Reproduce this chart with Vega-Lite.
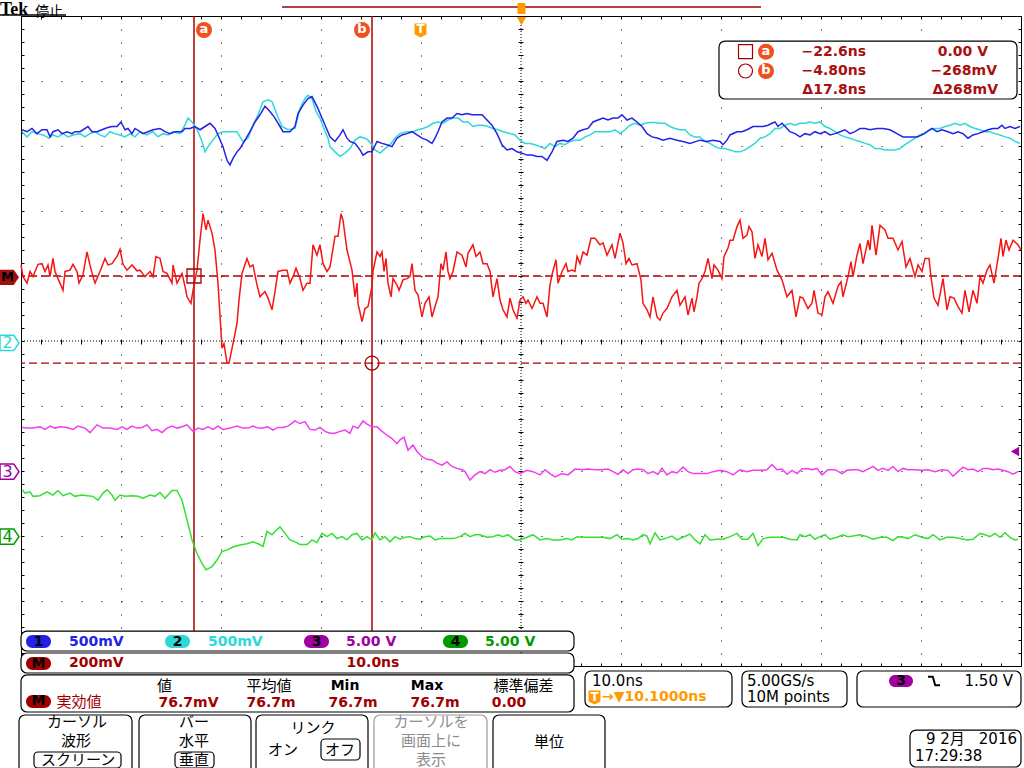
{
"$schema":"https://vega.github.io/schema/vega-lite/v6.json",
"width":1000,"height":650,
"autosize":{"type":"none"},
"padding":{"left":21,"top":16,"right":3,"bottom":102},
"background":"#ffffff",
"config":{"view":{"stroke":"#000000","strokeWidth":1}},
"data":{"values":[{}]},
"datasets":{
"tr":[
{"c":"2","t":-39.8,"v":3.22},{"c":"2","t":-39.3,"v":3.14},{"c":"2","t":-38.8,"v":3.22},{"c":"2","t":-38.3,"v":3.19},{"c":"2","t":-37.7,"v":3.17},{"c":"2","t":-37.1,"v":3.12},{"c":"2","t":-36.7,"v":3.17},{"c":"2","t":-36.2,"v":3.14},{"c":"2","t":-35.7,"v":3.19},{"c":"2","t":-35.2,"v":3.14},{"c":"2","t":-34.7,"v":3.17},{"c":"2","t":-34.0,"v":3.19},{"c":"2","t":-33.5,"v":3.14},{"c":"2","t":-33.0,"v":3.19},{"c":"2","t":-32.5,"v":3.22},{"c":"2","t":-32.0,"v":3.17},{"c":"2","t":-31.5,"v":3.14},{"c":"2","t":-31.0,"v":3.22},{"c":"2","t":-30.5,"v":3.19},{"c":"2","t":-30.0,"v":3.17},{"c":"2","t":-29.5,"v":3.14},{"c":"2","t":-29.0,"v":3.19},{"c":"2","t":-28.5,"v":3.14},{"c":"2","t":-28.0,"v":3.22},{"c":"2","t":-27.3,"v":3.17},{"c":"2","t":-26.7,"v":3.22},{"c":"2","t":-26.2,"v":3.14},{"c":"2","t":-25.7,"v":3.19},{"c":"2","t":-25.2,"v":3.17},{"c":"2","t":-24.7,"v":3.22},{"c":"2","t":-24.0,"v":3.19},{"c":"2","t":-23.5,"v":3.32},{"c":"2","t":-23.2,"v":3.43},{"c":"2","t":-22.8,"v":3.37},{"c":"2","t":-22.5,"v":3.30},{"c":"2","t":-22.2,"v":3.22},{"c":"2","t":-21.8,"v":3.07},{"c":"2","t":-21.5,"v":2.91},{"c":"2","t":-21.2,"v":2.99},{"c":"2","t":-20.7,"v":3.09},{"c":"2","t":-20.2,"v":3.19},{"c":"2","t":-19.7,"v":3.22},{"c":"2","t":-19.0,"v":3.22},{"c":"2","t":-18.3,"v":3.22},{"c":"2","t":-18.0,"v":3.14},{"c":"2","t":-17.7,"v":3.07},{"c":"2","t":-17.2,"v":3.12},{"c":"2","t":-16.7,"v":3.32},{"c":"2","t":-16.2,"v":3.48},{"c":"2","t":-15.7,"v":3.68},{"c":"2","t":-15.2,"v":3.71},{"c":"2","t":-14.8,"v":3.68},{"c":"2","t":-14.3,"v":3.48},{"c":"2","t":-13.8,"v":3.30},{"c":"2","t":-13.2,"v":3.25},{"c":"2","t":-12.5,"v":3.27},{"c":"2","t":-12.0,"v":3.58},{"c":"2","t":-11.5,"v":3.73},{"c":"2","t":-11.2,"v":3.78},{"c":"2","t":-10.8,"v":3.73},{"c":"2","t":-10.4,"v":3.53},{"c":"2","t":-10.0,"v":3.43},{"c":"2","t":-9.7,"v":3.30},{"c":"2","t":-9.2,"v":3.12},
{"c":"2","t":-9.0,"v":2.99},{"c":"2","t":-8.5,"v":2.91},{"c":"2","t":-8.0,"v":2.84},{"c":"2","t":-7.5,"v":2.89},{"c":"2","t":-7.0,"v":2.96},{"c":"2","t":-6.5,"v":3.09},{"c":"2","t":-6.0,"v":3.14},{"c":"2","t":-5.5,"v":3.12},{"c":"2","t":-5.2,"v":3.09},{"c":"2","t":-4.8,"v":3.02},{"c":"2","t":-4.5,"v":2.94},{"c":"2","t":-4.0,"v":2.89},{"c":"2","t":-3.5,"v":2.96},{"c":"2","t":-3.0,"v":3.02},{"c":"2","t":-2.5,"v":3.12},{"c":"2","t":-2.0,"v":3.19},{"c":"2","t":-1.3,"v":3.22},{"c":"2","t":-0.7,"v":3.22},{"c":"2","t":-0.2,"v":3.25},{"c":"2","t":0.3,"v":3.27},{"c":"2","t":0.8,"v":3.30},{"c":"2","t":1.3,"v":3.35},{"c":"2","t":1.8,"v":3.37},{"c":"2","t":2.3,"v":3.35},{"c":"2","t":2.8,"v":3.40},{"c":"2","t":3.3,"v":3.43},{"c":"2","t":3.8,"v":3.43},{"c":"2","t":4.3,"v":3.37},{"c":"2","t":4.8,"v":3.37},{"c":"2","t":5.3,"v":3.30},{"c":"2","t":5.8,"v":3.32},{"c":"2","t":6.3,"v":3.32},{"c":"2","t":6.8,"v":3.30},{"c":"2","t":7.3,"v":3.27},{"c":"2","t":7.8,"v":3.25},{"c":"2","t":8.3,"v":3.22},{"c":"2","t":9.0,"v":3.19},{"c":"2","t":9.5,"v":3.17},{"c":"2","t":10.0,"v":3.09},{"c":"2","t":10.5,"v":3.04},{"c":"2","t":11.0,"v":3.04},{"c":"2","t":11.5,"v":3.02},{"c":"2","t":12.0,"v":2.99},{"c":"2","t":12.5,"v":2.96},{"c":"2","t":13.0,"v":3.04},{"c":"2","t":13.5,"v":2.99},{"c":"2","t":14.0,"v":3.04},{"c":"2","t":14.5,"v":3.02},{"c":"2","t":15.0,"v":3.07},{"c":"2","t":15.5,"v":3.09},{"c":"2","t":16.0,"v":3.09},{"c":"2","t":16.5,"v":3.14},{"c":"2","t":17.0,"v":3.17},{"c":"2","t":17.5,"v":3.22},{"c":"2","t":18.0,"v":3.22},{"c":"2","t":18.5,"v":3.22},{"c":"2","t":19.0,"v":3.22},{"c":"2","t":19.5,"v":3.25},{"c":"2","t":20.0,"v":3.19},{"c":"2","t":20.5,"v":3.25},{"c":"2","t":21.0,"v":3.32},{"c":"2","t":21.5,"v":3.35},{"c":"2","t":22.0,"v":3.32},{"c":"2","t":22.5,"v":3.35},{"c":"2","t":23.0,"v":3.36},{"c":"2","t":23.5,"v":3.36},{"c":"2","t":24.0,"v":3.35},{"c":"2","t":24.5,"v":3.35},{"c":"2","t":25.0,"v":3.30},{"c":"2","t":25.5,"v":3.27},{"c":"2","t":26.0,"v":3.25},{"c":"2","t":26.5,"v":3.25},{"c":"2","t":27.0,"v":3.17},{"c":"2","t":27.5,"v":3.14},
{"c":"2","t":28.0,"v":3.14},{"c":"2","t":28.5,"v":3.07},{"c":"2","t":29.0,"v":3.04},{"c":"2","t":29.5,"v":2.99},{"c":"2","t":30.0,"v":2.96},{"c":"2","t":30.5,"v":2.96},{"c":"2","t":31.0,"v":2.94},{"c":"2","t":31.5,"v":2.91},{"c":"2","t":32.0,"v":2.91},{"c":"2","t":32.5,"v":2.94},{"c":"2","t":33.0,"v":2.99},{"c":"2","t":33.5,"v":3.04},{"c":"2","t":34.0,"v":3.12},{"c":"2","t":34.5,"v":3.14},{"c":"2","t":35.0,"v":3.19},{"c":"2","t":35.5,"v":3.27},{"c":"2","t":36.0,"v":3.27},{"c":"2","t":36.5,"v":3.32},{"c":"2","t":37.0,"v":3.35},{"c":"2","t":37.5,"v":3.32},{"c":"2","t":38.0,"v":3.35},{"c":"2","t":38.5,"v":3.35},{"c":"2","t":39.0,"v":3.37},{"c":"2","t":39.5,"v":3.35},{"c":"2","t":40.0,"v":3.37},{"c":"2","t":40.5,"v":3.30},{"c":"2","t":41.0,"v":3.27},{"c":"2","t":41.5,"v":3.22},{"c":"2","t":42.0,"v":3.17},{"c":"2","t":42.5,"v":3.14},{"c":"2","t":43.0,"v":3.12},{"c":"2","t":43.5,"v":3.09},{"c":"2","t":44.0,"v":3.07},{"c":"2","t":44.5,"v":3.04},{"c":"2","t":45.0,"v":3.02},{"c":"2","t":45.5,"v":2.96},{"c":"2","t":46.0,"v":2.96},{"c":"2","t":46.5,"v":2.94},{"c":"2","t":47.0,"v":2.94},{"c":"2","t":47.5,"v":2.94},{"c":"2","t":48.0,"v":2.96},{"c":"2","t":48.5,"v":3.02},{"c":"2","t":49.0,"v":3.07},{"c":"2","t":49.5,"v":3.12},{"c":"2","t":50.0,"v":3.17},{"c":"2","t":50.5,"v":3.19},{"c":"2","t":51.0,"v":3.25},{"c":"2","t":51.5,"v":3.27},{"c":"2","t":52.0,"v":3.27},{"c":"2","t":52.5,"v":3.30},{"c":"2","t":53.0,"v":3.32},{"c":"2","t":53.5,"v":3.35},{"c":"2","t":54.0,"v":3.32},{"c":"2","t":54.5,"v":3.35},{"c":"2","t":55.0,"v":3.30},{"c":"2","t":55.5,"v":3.27},{"c":"2","t":56.0,"v":3.25},{"c":"2","t":56.5,"v":3.22},{"c":"2","t":57.0,"v":3.22},{"c":"2","t":57.5,"v":3.19},{"c":"2","t":58.0,"v":3.17},{"c":"2","t":58.5,"v":3.14},{"c":"2","t":59.0,"v":3.12},{"c":"2","t":59.5,"v":3.07},{"c":"2","t":60.0,"v":3.04},
{"c":"1","t":-39.8,"v":3.25},{"c":"1","t":-39.3,"v":3.22},{"c":"1","t":-38.8,"v":3.27},{"c":"1","t":-38.3,"v":3.19},{"c":"1","t":-37.8,"v":3.25},{"c":"1","t":-37.3,"v":3.25},{"c":"1","t":-37.0,"v":3.14},{"c":"1","t":-36.7,"v":3.22},{"c":"1","t":-36.2,"v":3.25},{"c":"1","t":-35.8,"v":3.19},{"c":"1","t":-35.3,"v":3.22},{"c":"1","t":-34.8,"v":3.19},{"c":"1","t":-34.5,"v":3.22},{"c":"1","t":-34.0,"v":3.22},{"c":"1","t":-33.2,"v":3.30},{"c":"1","t":-32.8,"v":3.22},{"c":"1","t":-32.3,"v":3.22},{"c":"1","t":-31.8,"v":3.25},{"c":"1","t":-31.3,"v":3.28},{"c":"1","t":-30.8,"v":3.30},{"c":"1","t":-30.3,"v":3.30},{"c":"1","t":-29.9,"v":3.37},{"c":"1","t":-29.5,"v":3.25},{"c":"1","t":-29.2,"v":3.27},{"c":"1","t":-28.8,"v":3.19},{"c":"1","t":-28.5,"v":3.27},{"c":"1","t":-28.0,"v":3.22},{"c":"1","t":-27.7,"v":3.19},{"c":"1","t":-27.2,"v":3.22},{"c":"1","t":-26.7,"v":3.25},{"c":"1","t":-26.0,"v":3.27},{"c":"1","t":-25.5,"v":3.22},{"c":"1","t":-25.0,"v":3.19},{"c":"1","t":-24.5,"v":3.22},{"c":"1","t":-23.8,"v":3.22},{"c":"1","t":-23.5,"v":3.27},{"c":"1","t":-23.0,"v":3.27},{"c":"1","t":-22.5,"v":3.30},{"c":"1","t":-22.0,"v":3.25},{"c":"1","t":-21.5,"v":3.30},{"c":"1","t":-21.0,"v":3.35},{"c":"1","t":-20.5,"v":3.27},{"c":"1","t":-20.2,"v":3.17},{"c":"1","t":-19.7,"v":2.99},{"c":"1","t":-19.3,"v":2.78},{"c":"1","t":-19.0,"v":2.71},{"c":"1","t":-18.7,"v":2.81},{"c":"1","t":-18.3,"v":2.91},{"c":"1","t":-18.0,"v":2.96},{"c":"1","t":-17.5,"v":3.09},{"c":"1","t":-17.0,"v":3.22},{"c":"1","t":-16.5,"v":3.37},{"c":"1","t":-16.0,"v":3.48},{"c":"1","t":-15.5,"v":3.61},{"c":"1","t":-15.0,"v":3.53},{"c":"1","t":-14.5,"v":3.43},{"c":"1","t":-14.0,"v":3.30},{"c":"1","t":-13.7,"v":3.22},{"c":"1","t":-13.0,"v":3.22},{"c":"1","t":-12.5,"v":3.30},{"c":"1","t":-12.2,"v":3.50},{"c":"1","t":-11.7,"v":3.63},{"c":"1","t":-11.2,"v":3.73},{"c":"1","t":-10.8,"v":3.76},{"c":"1","t":-10.3,"v":3.61},{"c":"1","t":-9.8,"v":3.43},{"c":"1","t":-9.3,"v":3.25},
{"c":"1","t":-9.0,"v":3.14},{"c":"1","t":-8.5,"v":3.07},{"c":"1","t":-8.0,"v":3.17},{"c":"1","t":-7.7,"v":3.25},{"c":"1","t":-7.3,"v":3.12},{"c":"1","t":-7.0,"v":3.07},{"c":"1","t":-6.5,"v":3.04},{"c":"1","t":-6.0,"v":2.94},{"c":"1","t":-5.7,"v":2.86},{"c":"1","t":-5.2,"v":2.91},{"c":"1","t":-4.8,"v":2.91},{"c":"1","t":-4.3,"v":3.07},{"c":"1","t":-3.8,"v":3.04},{"c":"1","t":-3.3,"v":3.02},{"c":"1","t":-2.8,"v":2.99},{"c":"1","t":-2.3,"v":3.12},{"c":"1","t":-1.8,"v":3.17},{"c":"1","t":-1.3,"v":3.19},{"c":"1","t":-0.8,"v":3.22},{"c":"1","t":-0.3,"v":3.17},{"c":"1","t":0.2,"v":3.12},{"c":"1","t":0.7,"v":3.09},{"c":"1","t":1.2,"v":3.04},{"c":"1","t":1.5,"v":3.12},{"c":"1","t":1.8,"v":3.22},{"c":"1","t":2.2,"v":3.37},{"c":"1","t":2.7,"v":3.43},{"c":"1","t":3.2,"v":3.43},{"c":"1","t":3.7,"v":3.50},{"c":"1","t":4.2,"v":3.48},{"c":"1","t":4.7,"v":3.50},{"c":"1","t":5.2,"v":3.48},{"c":"1","t":5.7,"v":3.48},{"c":"1","t":6.2,"v":3.48},{"c":"1","t":6.7,"v":3.40},{"c":"1","t":7.2,"v":3.32},{"c":"1","t":7.7,"v":3.19},{"c":"1","t":8.2,"v":3.02},{"c":"1","t":8.7,"v":2.94},{"c":"1","t":9.2,"v":2.96},{"c":"1","t":9.7,"v":2.91},{"c":"1","t":10.2,"v":2.89},{"c":"1","t":10.7,"v":2.86},{"c":"1","t":11.2,"v":2.86},{"c":"1","t":11.7,"v":2.84},{"c":"1","t":12.2,"v":2.84},{"c":"1","t":12.7,"v":2.78},{"c":"1","t":13.2,"v":2.91},{"c":"1","t":13.7,"v":3.07},{"c":"1","t":14.3,"v":3.09},{"c":"1","t":14.8,"v":3.07},{"c":"1","t":15.3,"v":3.12},{"c":"1","t":15.8,"v":3.22},{"c":"1","t":16.3,"v":3.25},{"c":"1","t":16.8,"v":3.27},{"c":"1","t":17.3,"v":3.37},{"c":"1","t":17.8,"v":3.40},{"c":"1","t":18.3,"v":3.43},{"c":"1","t":18.8,"v":3.40},{"c":"1","t":19.3,"v":3.43},{"c":"1","t":19.8,"v":3.43},{"c":"1","t":20.2,"v":3.48},{"c":"1","t":20.7,"v":3.40},{"c":"1","t":21.2,"v":3.43},{"c":"1","t":21.7,"v":3.37},{"c":"1","t":22.2,"v":3.30},{"c":"1","t":22.7,"v":3.19},{"c":"1","t":23.2,"v":3.14},{"c":"1","t":23.8,"v":3.12},{"c":"1","t":24.3,"v":3.09},{"c":"1","t":25.0,"v":3.12},{"c":"1","t":25.7,"v":3.09},{"c":"1","t":26.3,"v":3.07},{"c":"1","t":27.0,"v":3.04},
{"c":"1","t":28.0,"v":3.09},{"c":"1","t":28.7,"v":3.07},{"c":"1","t":29.3,"v":3.09},{"c":"1","t":30.0,"v":3.07},{"c":"1","t":30.3,"v":3.02},{"c":"1","t":30.7,"v":3.09},{"c":"1","t":31.0,"v":3.17},{"c":"1","t":31.7,"v":3.22},{"c":"1","t":32.2,"v":3.22},{"c":"1","t":32.7,"v":3.25},{"c":"1","t":33.3,"v":3.30},{"c":"1","t":33.8,"v":3.30},{"c":"1","t":34.3,"v":3.30},{"c":"1","t":34.8,"v":3.32},{"c":"1","t":35.2,"v":3.35},{"c":"1","t":35.5,"v":3.37},{"c":"1","t":35.8,"v":3.30},{"c":"1","t":36.2,"v":3.35},{"c":"1","t":36.7,"v":3.27},{"c":"1","t":37.0,"v":3.22},{"c":"1","t":37.5,"v":3.19},{"c":"1","t":38.0,"v":3.14},{"c":"1","t":38.5,"v":3.19},{"c":"1","t":39.0,"v":3.17},{"c":"1","t":39.5,"v":3.22},{"c":"1","t":40.0,"v":3.19},{"c":"1","t":40.5,"v":3.22},{"c":"1","t":41.0,"v":3.17},{"c":"1","t":41.5,"v":3.19},{"c":"1","t":42.0,"v":3.22},{"c":"1","t":42.5,"v":3.25},{"c":"1","t":43.0,"v":3.19},{"c":"1","t":43.5,"v":3.22},{"c":"1","t":44.0,"v":3.27},{"c":"1","t":44.5,"v":3.27},{"c":"1","t":45.0,"v":3.25},{"c":"1","t":45.7,"v":3.27},{"c":"1","t":46.3,"v":3.27},{"c":"1","t":47.0,"v":3.25},{"c":"1","t":47.7,"v":3.19},{"c":"1","t":48.3,"v":3.14},{"c":"1","t":49.0,"v":3.14},{"c":"1","t":49.7,"v":3.14},{"c":"1","t":50.2,"v":3.17},{"c":"1","t":50.7,"v":3.22},{"c":"1","t":51.2,"v":3.27},{"c":"1","t":51.7,"v":3.22},{"c":"1","t":52.2,"v":3.25},{"c":"1","t":52.8,"v":3.22},{"c":"1","t":53.3,"v":3.19},{"c":"1","t":53.8,"v":3.22},{"c":"1","t":54.3,"v":3.19},{"c":"1","t":54.8,"v":3.12},{"c":"1","t":55.3,"v":3.17},{"c":"1","t":55.8,"v":3.19},{"c":"1","t":56.3,"v":3.22},{"c":"1","t":56.8,"v":3.25},{"c":"1","t":57.3,"v":3.27},{"c":"1","t":57.8,"v":3.27},{"c":"1","t":58.2,"v":3.32},{"c":"1","t":58.5,"v":3.27},{"c":"1","t":59.0,"v":3.30},{"c":"1","t":59.5,"v":3.27},{"c":"1","t":60.0,"v":3.30},
{"c":"3","t":-39.8,"v":-1.33},{"c":"3","t":-39.3,"v":-1.34},{"c":"3","t":-38.7,"v":-1.34},{"c":"3","t":-38.0,"v":-1.32},{"c":"3","t":-37.5,"v":-1.36},{"c":"3","t":-37.0,"v":-1.31},{"c":"3","t":-36.5,"v":-1.34},{"c":"3","t":-36.0,"v":-1.32},{"c":"3","t":-35.3,"v":-1.33},{"c":"3","t":-34.7,"v":-1.36},{"c":"3","t":-34.2,"v":-1.31},{"c":"3","t":-33.5,"v":-1.34},{"c":"3","t":-33.0,"v":-1.41},{"c":"3","t":-32.3,"v":-1.29},{"c":"3","t":-31.7,"v":-1.34},{"c":"3","t":-31.0,"v":-1.34},{"c":"3","t":-30.3,"v":-1.36},{"c":"3","t":-29.8,"v":-1.32},{"c":"3","t":-29.3,"v":-1.36},{"c":"3","t":-28.8,"v":-1.31},{"c":"3","t":-28.3,"v":-1.34},{"c":"3","t":-27.8,"v":-1.33},{"c":"3","t":-27.3,"v":-1.29},{"c":"3","t":-26.8,"v":-1.38},{"c":"3","t":-26.3,"v":-1.36},{"c":"3","t":-25.8,"v":-1.41},{"c":"3","t":-25.3,"v":-1.34},{"c":"3","t":-24.8,"v":-1.31},{"c":"3","t":-24.3,"v":-1.34},{"c":"3","t":-23.8,"v":-1.32},{"c":"3","t":-23.3,"v":-1.29},{"c":"3","t":-22.7,"v":-1.39},{"c":"3","t":-22.2,"v":-1.34},{"c":"3","t":-21.7,"v":-1.36},{"c":"3","t":-21.2,"v":-1.32},{"c":"3","t":-20.7,"v":-1.36},{"c":"3","t":-20.2,"v":-1.31},{"c":"3","t":-19.7,"v":-1.36},{"c":"3","t":-19.0,"v":-1.34},{"c":"3","t":-18.3,"v":-1.31},{"c":"3","t":-17.7,"v":-1.34},{"c":"3","t":-17.2,"v":-1.34},{"c":"3","t":-16.7,"v":-1.31},{"c":"3","t":-16.2,"v":-1.34},{"c":"3","t":-15.7,"v":-1.34},{"c":"3","t":-15.2,"v":-1.32},{"c":"3","t":-14.7,"v":-1.37},{"c":"3","t":-14.2,"v":-1.33},{"c":"3","t":-13.7,"v":-1.33},{"c":"3","t":-13.2,"v":-1.31},{"c":"3","t":-12.5,"v":-1.23},{"c":"3","t":-12.0,"v":-1.27},{"c":"3","t":-11.5,"v":-1.24},{"c":"3","t":-11.0,"v":-1.36},{"c":"3","t":-10.5,"v":-1.37},{"c":"3","t":-10.0,"v":-1.33},{"c":"3","t":-9.5,"v":-1.39},{"c":"3","t":-9.0,"v":-1.42},{"c":"3","t":-8.5,"v":-1.42},{"c":"3","t":-8.0,"v":-1.39},{"c":"3","t":-7.5,"v":-1.37},{"c":"3","t":-7.0,"v":-1.42},{"c":"3","t":-6.7,"v":-1.31},{"c":"3","t":-6.2,"v":-1.34},{"c":"3","t":-5.7,"v":-1.23},{"c":"3","t":-5.3,"v":-1.28},{"c":"3","t":-4.8,"v":-1.32},{"c":"3","t":-4.3,"v":-1.32},{"c":"3","t":-3.8,"v":-1.39},{"c":"3","t":-3.3,"v":-1.45},{"c":"3","t":-2.8,"v":-1.50},{"c":"3","t":-2.3,"v":-1.58},{"c":"3","t":-2.0,"v":-1.52},{"c":"3","t":-1.6,"v":-1.48},{"c":"3","t":-1.2,"v":-1.68},{"c":"3","t":-0.7,"v":-1.60},{"c":"3","t":-0.3,"v":-1.70},{"c":"3","t":0.2,"v":-1.78},{"c":"3","t":0.7,"v":-1.82},{"c":"3","t":1.2,"v":-1.83},{"c":"3","t":1.7,"v":-1.88},{"c":"3","t":2.2,"v":-1.91},{"c":"3","t":2.7,"v":-1.86},{"c":"3","t":3.2,"v":-1.93},{"c":"3","t":3.7,"v":-1.96},{"c":"3","t":4.2,"v":-1.98},{"c":"3","t":4.5,"v":-2.01},{"c":"3","t":5.0,"v":-2.14},{"c":"3","t":5.5,"v":-2.06},{"c":"3","t":6.0,"v":-2.01},{"c":"3","t":6.5,"v":-2.04},{"c":"3","t":7.0,"v":-1.98},{"c":"3","t":7.5,"v":-2.02},{"c":"3","t":8.0,"v":-1.99},{"c":"3","t":8.5,"v":-1.98},{"c":"3","t":9.0,"v":-1.93},{"c":"3","t":9.5,"v":-2.01},
{"c":"3","t":10.0,"v":-2.04},{"c":"3","t":10.7,"v":-1.99},{"c":"3","t":11.3,"v":-2.01},{"c":"3","t":12.0,"v":-2.06},{"c":"3","t":12.5,"v":-1.98},{"c":"3","t":13.0,"v":-2.04},{"c":"3","t":13.5,"v":-2.09},{"c":"3","t":14.2,"v":-2.04},{"c":"3","t":14.8,"v":-2.06},{"c":"3","t":15.5,"v":-1.97},{"c":"3","t":16.2,"v":-1.98},{"c":"3","t":16.8,"v":-1.97},{"c":"3","t":17.5,"v":-1.98},{"c":"3","t":18.2,"v":-1.98},{"c":"3","t":18.8,"v":-1.97},{"c":"3","t":19.3,"v":-2.01},{"c":"3","t":19.8,"v":-2.05},{"c":"3","t":20.3,"v":-1.98},{"c":"3","t":20.8,"v":-2.04},{"c":"3","t":21.3,"v":-1.98},{"c":"3","t":21.8,"v":-1.97},{"c":"3","t":22.3,"v":-1.98},{"c":"3","t":22.8,"v":-2.04},{"c":"3","t":23.3,"v":-2.01},{"c":"3","t":23.8,"v":-2.05},{"c":"3","t":24.2,"v":-1.96},{"c":"3","t":24.7,"v":-2.06},{"c":"3","t":25.2,"v":-2.01},{"c":"3","t":25.7,"v":-2.03},{"c":"3","t":26.3,"v":-1.94},{"c":"3","t":26.8,"v":-2.01},{"c":"3","t":27.3,"v":-2.04},{"c":"3","t":28.0,"v":-2.04},{"c":"3","t":28.7,"v":-2.04},{"c":"3","t":29.3,"v":-2.01},{"c":"3","t":30.0,"v":-1.99},{"c":"3","t":30.7,"v":-2.01},{"c":"3","t":31.3,"v":-2.06},{"c":"3","t":32.0,"v":-1.98},{"c":"3","t":32.7,"v":-2.01},{"c":"3","t":33.3,"v":-1.99},{"c":"3","t":34.0,"v":-1.99},{"c":"3","t":34.7,"v":-1.98},{"c":"3","t":35.2,"v":-1.90},{"c":"3","t":35.7,"v":-1.98},{"c":"3","t":36.2,"v":-1.97},{"c":"3","t":36.7,"v":-2.05},{"c":"3","t":37.2,"v":-1.99},{"c":"3","t":37.7,"v":-2.04},{"c":"3","t":38.2,"v":-1.97},{"c":"3","t":38.7,"v":-1.96},{"c":"3","t":39.2,"v":-1.98},{"c":"3","t":39.7,"v":-1.96},{"c":"3","t":40.2,"v":-2.06},{"c":"3","t":40.8,"v":-1.98},{"c":"3","t":41.5,"v":-1.98},{"c":"3","t":42.2,"v":-2.04},{"c":"3","t":42.7,"v":-1.99},{"c":"3","t":43.3,"v":-1.98},{"c":"3","t":43.8,"v":-1.98},{"c":"3","t":44.3,"v":-2.01},{"c":"3","t":44.8,"v":-1.97},{"c":"3","t":45.3,"v":-1.93},{"c":"3","t":45.8,"v":-1.99},{"c":"3","t":46.3,"v":-1.96},{"c":"3","t":46.8,"v":-1.99},{"c":"3","t":47.3,"v":-1.93},{"c":"3","t":47.8,"v":-2.01},{"c":"3","t":48.3,"v":-1.96},{"c":"3","t":48.8,"v":-1.98},{"c":"3","t":49.5,"v":-1.98},{"c":"3","t":50.2,"v":-1.99},{"c":"3","t":50.8,"v":-1.98},{"c":"3","t":51.5,"v":-2.01},{"c":"3","t":52.2,"v":-1.98},{"c":"3","t":52.8,"v":-1.99},{"c":"3","t":53.3,"v":-2.08},{"c":"3","t":53.8,"v":-2.01},{"c":"3","t":54.3,"v":-1.94},{"c":"3","t":54.8,"v":-1.98},{"c":"3","t":55.3,"v":-1.97},{"c":"3","t":55.8,"v":-2.01},{"c":"3","t":56.3,"v":-1.96},{"c":"3","t":56.8,"v":-1.96},{"c":"3","t":57.3,"v":-1.98},{"c":"3","t":57.8,"v":-1.97},{"c":"3","t":58.3,"v":-1.99},{"c":"3","t":58.8,"v":-2.01},{"c":"3","t":59.3,"v":-2.05},{"c":"3","t":59.8,"v":-2.01},
{"c":"4","t":-39.8,"v":-2.29},{"c":"4","t":-39.5,"v":-2.34},{"c":"4","t":-39.0,"v":-2.32},{"c":"4","t":-38.7,"v":-2.39},{"c":"4","t":-38.0,"v":-2.38},{"c":"4","t":-37.3,"v":-2.32},{"c":"4","t":-36.7,"v":-2.37},{"c":"4","t":-36.2,"v":-2.30},{"c":"4","t":-35.7,"v":-2.38},{"c":"4","t":-35.0,"v":-2.34},{"c":"4","t":-34.5,"v":-2.39},{"c":"4","t":-33.8,"v":-2.37},{"c":"4","t":-33.3,"v":-2.38},{"c":"4","t":-32.7,"v":-2.39},{"c":"4","t":-32.2,"v":-2.45},{"c":"4","t":-31.7,"v":-2.34},{"c":"4","t":-31.3,"v":-2.29},{"c":"4","t":-30.8,"v":-2.37},{"c":"4","t":-30.5,"v":-2.45},{"c":"4","t":-30.0,"v":-2.37},{"c":"4","t":-29.5,"v":-2.39},{"c":"4","t":-28.8,"v":-2.38},{"c":"4","t":-28.2,"v":-2.39},{"c":"4","t":-27.7,"v":-2.42},{"c":"4","t":-27.0,"v":-2.37},{"c":"4","t":-26.5,"v":-2.39},{"c":"4","t":-26.0,"v":-2.33},{"c":"4","t":-25.5,"v":-2.42},{"c":"4","t":-24.8,"v":-2.30},{"c":"4","t":-24.3,"v":-2.30},{"c":"4","t":-23.8,"v":-2.45},{"c":"4","t":-23.3,"v":-2.75},{"c":"4","t":-22.8,"v":-3.06},{"c":"4","t":-22.3,"v":-3.27},{"c":"4","t":-21.8,"v":-3.42},{"c":"4","t":-21.4,"v":-3.52},{"c":"4","t":-20.8,"v":-3.47},{"c":"4","t":-20.3,"v":-3.37},{"c":"4","t":-19.8,"v":-3.24},{"c":"4","t":-19.2,"v":-3.21},{"c":"4","t":-18.7,"v":-3.17},{"c":"4","t":-18.0,"v":-3.14},{"c":"4","t":-17.3,"v":-3.12},{"c":"4","t":-16.7,"v":-3.09},{"c":"4","t":-16.2,"v":-3.12},{"c":"4","t":-15.7,"v":-3.16},{"c":"4","t":-15.3,"v":-2.93},{"c":"4","t":-14.8,"v":-2.98},{"c":"4","t":-14.5,"v":-2.93},{"c":"4","t":-14.0,"v":-2.86},{"c":"4","t":-13.5,"v":-2.96},{"c":"4","t":-13.0,"v":-3.06},{"c":"4","t":-12.5,"v":-3.09},{"c":"4","t":-12.0,"v":-3.13},{"c":"4","t":-11.3,"v":-3.13},{"c":"4","t":-10.8,"v":-3.06},{"c":"4","t":-10.3,"v":-3.10},{"c":"4","t":-9.8,"v":-2.96},{"c":"4","t":-9.3,"v":-3.01},{"c":"4","t":-8.8,"v":-2.96},{"c":"4","t":-8.3,"v":-3.04},{"c":"4","t":-7.8,"v":-3.01},{"c":"4","t":-7.3,"v":-3.06},{"c":"4","t":-6.8,"v":-2.98},{"c":"4","t":-6.3,"v":-2.96},{"c":"4","t":-5.8,"v":-3.06},{"c":"4","t":-5.3,"v":-3.01},{"c":"4","t":-4.8,"v":-3.06},{"c":"4","t":-4.5,"v":-2.95},{"c":"4","t":-4.0,"v":-3.06},{"c":"4","t":-3.5,"v":-3.01},{"c":"4","t":-3.0,"v":-3.09},{"c":"4","t":-2.5,"v":-3.01},{"c":"4","t":-2.0,"v":-3.05},{"c":"4","t":-1.5,"v":-3.02},{"c":"4","t":-1.0,"v":-3.01},{"c":"4","t":-0.5,"v":-3.04},{"c":"4","t":0.0,"v":-3.05},{"c":"4","t":0.5,"v":-3.01},{"c":"4","t":1.0,"v":-3.00},{"c":"4","t":1.5,"v":-3.06},{"c":"4","t":2.0,"v":-3.04},{"c":"4","t":2.7,"v":-3.04},{"c":"4","t":3.3,"v":-3.04},{"c":"4","t":4.0,"v":-3.01},{"c":"4","t":4.5,"v":-2.96},{"c":"4","t":5.0,"v":-3.01},{"c":"4","t":5.5,"v":-2.98},{"c":"4","t":6.0,"v":-2.98},{"c":"4","t":6.7,"v":-3.02},{"c":"4","t":7.3,"v":-3.01},{"c":"4","t":7.8,"v":-2.98},{"c":"4","t":8.3,"v":-3.01},{"c":"4","t":8.8,"v":-2.98},{"c":"4","t":9.5,"v":-3.06},
{"c":"4","t":10.0,"v":-3.06},{"c":"4","t":10.7,"v":-3.02},{"c":"4","t":11.3,"v":-2.98},{"c":"4","t":12.0,"v":-3.06},{"c":"4","t":12.7,"v":-3.04},{"c":"4","t":13.3,"v":-3.06},{"c":"4","t":14.0,"v":-3.06},{"c":"4","t":14.7,"v":-3.04},{"c":"4","t":15.2,"v":-3.06},{"c":"4","t":15.7,"v":-3.01},{"c":"4","t":16.3,"v":-3.02},{"c":"4","t":17.0,"v":-3.02},{"c":"4","t":17.7,"v":-3.02},{"c":"4","t":18.3,"v":-3.02},{"c":"4","t":19.0,"v":-3.04},{"c":"4","t":19.7,"v":-2.98},{"c":"4","t":20.2,"v":-3.05},{"c":"4","t":20.8,"v":-3.04},{"c":"4","t":21.3,"v":-3.06},{"c":"4","t":21.8,"v":-3.04},{"c":"4","t":22.3,"v":-2.98},{"c":"4","t":22.7,"v":-3.00},{"c":"4","t":23.0,"v":-3.12},{"c":"4","t":23.5,"v":-2.95},{"c":"4","t":24.0,"v":-3.06},{"c":"4","t":24.5,"v":-3.04},{"c":"4","t":25.2,"v":-3.00},{"c":"4","t":25.7,"v":-3.06},{"c":"4","t":26.3,"v":-3.02},{"c":"4","t":27.0,"v":-2.97},{"c":"4","t":27.5,"v":-3.06},{"c":"4","t":28.0,"v":-3.12},{"c":"4","t":28.5,"v":-2.98},{"c":"4","t":29.0,"v":-3.06},{"c":"4","t":29.7,"v":-3.05},{"c":"4","t":30.3,"v":-3.05},{"c":"4","t":31.0,"v":-3.01},{"c":"4","t":31.7,"v":-2.96},{"c":"4","t":32.2,"v":-3.05},{"c":"4","t":32.8,"v":-3.05},{"c":"4","t":33.3,"v":-2.96},{"c":"4","t":33.8,"v":-3.15},{"c":"4","t":34.3,"v":-3.04},{"c":"4","t":35.0,"v":-3.02},{"c":"4","t":35.7,"v":-3.02},{"c":"4","t":36.3,"v":-3.02},{"c":"4","t":37.0,"v":-3.05},{"c":"4","t":37.7,"v":-3.06},{"c":"4","t":38.0,"v":-2.98},{"c":"4","t":38.5,"v":-3.01},{"c":"4","t":39.0,"v":-2.98},{"c":"4","t":39.5,"v":-3.05},{"c":"4","t":40.0,"v":-3.01},{"c":"4","t":40.5,"v":-2.98},{"c":"4","t":41.0,"v":-3.05},{"c":"4","t":41.7,"v":-3.02},{"c":"4","t":42.3,"v":-2.98},{"c":"4","t":42.8,"v":-3.01},{"c":"4","t":43.3,"v":-3.00},{"c":"4","t":44.0,"v":-2.98},{"c":"4","t":44.7,"v":-3.01},{"c":"4","t":45.3,"v":-3.05},{"c":"4","t":46.0,"v":-3.02},{"c":"4","t":46.7,"v":-3.02},{"c":"4","t":47.3,"v":-3.07},{"c":"4","t":47.8,"v":-3.01},{"c":"4","t":48.3,"v":-3.02},{"c":"4","t":48.8,"v":-3.04},{"c":"4","t":49.5,"v":-2.98},{"c":"4","t":50.2,"v":-3.02},{"c":"4","t":50.8,"v":-3.04},{"c":"4","t":51.3,"v":-2.98},{"c":"4","t":52.0,"v":-3.06},{"c":"4","t":52.7,"v":-3.02},{"c":"4","t":53.3,"v":-3.02},{"c":"4","t":54.0,"v":-3.04},{"c":"4","t":54.7,"v":-3.06},{"c":"4","t":55.3,"v":-3.05},{"c":"4","t":56.0,"v":-2.96},{"c":"4","t":56.5,"v":-2.98},{"c":"4","t":57.0,"v":-3.01},{"c":"4","t":57.5,"v":-2.96},{"c":"4","t":58.0,"v":-3.02},{"c":"4","t":58.5,"v":-2.95},{"c":"4","t":59.0,"v":-3.02},{"c":"4","t":59.5,"v":-3.06},{"c":"4","t":59.8,"v":-3.05},
{"c":"M","t":-39.9,"v":1.17},{"c":"M","t":-39.7,"v":0.99},{"c":"M","t":-39.3,"v":0.89},{"c":"M","t":-39.0,"v":1.07},{"c":"M","t":-38.7,"v":0.99},{"c":"M","t":-38.2,"v":1.18},{"c":"M","t":-37.8,"v":1.19},{"c":"M","t":-37.5,"v":1.07},{"c":"M","t":-37.2,"v":1.17},{"c":"M","t":-37.0,"v":0.99},{"c":"M","t":-36.7,"v":1.27},{"c":"M","t":-36.5,"v":1.07},{"c":"M","t":-36.2,"v":0.96},{"c":"M","t":-35.7,"v":0.78},{"c":"M","t":-35.5,"v":1.07},{"c":"M","t":-35.0,"v":1.09},{"c":"M","t":-34.7,"v":1.18},{"c":"M","t":-34.3,"v":1.07},{"c":"M","t":-34.1,"v":0.89},{"c":"M","t":-33.7,"v":1.02},{"c":"M","t":-33.3,"v":1.37},{"c":"M","t":-33.0,"v":1.17},{"c":"M","t":-32.7,"v":0.99},{"c":"M","t":-32.5,"v":0.89},{"c":"M","t":-32.0,"v":1.07},{"c":"M","t":-31.5,"v":1.27},{"c":"M","t":-31.2,"v":1.17},{"c":"M","t":-30.8,"v":1.19},{"c":"M","t":-30.3,"v":1.30},{"c":"M","t":-30.0,"v":1.41},{"c":"M","t":-29.7,"v":1.18},{"c":"M","t":-29.3,"v":1.09},{"c":"M","t":-28.8,"v":1.17},{"c":"M","t":-28.3,"v":1.08},{"c":"M","t":-28.0,"v":1.09},{"c":"M","t":-27.5,"v":0.99},{"c":"M","t":-27.0,"v":1.07},{"c":"M","t":-26.7,"v":0.99},{"c":"M","t":-26.4,"v":1.30},{"c":"M","t":-26.0,"v":1.27},{"c":"M","t":-25.7,"v":1.07},{"c":"M","t":-25.3,"v":1.04},{"c":"M","t":-24.8,"v":0.89},{"c":"M","t":-24.7,"v":1.17},{"c":"M","t":-24.3,"v":0.89},{"c":"M","t":-23.8,"v":1.04},{"c":"M","t":-23.5,"v":0.84},{"c":"M","t":-23.3,"v":0.68},{"c":"M","t":-22.9,"v":0.58},{"c":"M","t":-22.7,"v":0.78},{"c":"M","t":-22.3,"v":1.09},{"c":"M","t":-22.0,"v":1.55},{"c":"M","t":-21.7,"v":1.96},{"c":"M","t":-21.4,"v":1.71},{"c":"M","t":-21.2,"v":1.86},{"c":"M","t":-20.8,"v":1.66},{"c":"M","t":-20.5,"v":1.40},{"c":"M","t":-20.2,"v":0.89},{"c":"M","t":-19.8,"v":-0.11},{"c":"M","t":-19.6,"v":-0.04},{"c":"M","t":-19.3,"v":-0.34},{"c":"M","t":-19.1,"v":-0.34},{"c":"M","t":-18.7,"v":-0.04},{"c":"M","t":-18.3,"v":0.27},{"c":"M","t":-18.1,"v":0.63},{"c":"M","t":-17.8,"v":1.04},{"c":"M","t":-17.3,"v":1.27},{"c":"M","t":-17.0,"v":1.14},{"c":"M","t":-16.7,"v":1.17},{"c":"M","t":-16.3,"v":0.86},{"c":"M","t":-16.0,"v":0.68},{"c":"M","t":-15.5,"v":0.76},{"c":"M","t":-15.2,"v":0.66},{"c":"M","t":-14.8,"v":0.48},{"c":"M","t":-14.5,"v":0.76},{"c":"M","t":-14.2,"v":1.07},{"c":"M","t":-13.7,"v":1.09},{"c":"M","t":-13.3,"v":1.09},{"c":"M","t":-13.0,"v":0.89},{"c":"M","t":-12.7,"v":0.99},{"c":"M","t":-12.4,"v":1.12},{"c":"M","t":-12.0,"v":0.96},{"c":"M","t":-11.7,"v":0.78},{"c":"M","t":-11.3,"v":0.89},{"c":"M","t":-11.0,"v":0.89},{"c":"M","t":-10.7,"v":1.48},{"c":"M","t":-10.3,"v":1.32},{"c":"M","t":-10.0,"v":1.48},{"c":"M","t":-9.7,"v":1.19},{"c":"M","t":-9.3,"v":1.07},{"c":"M","t":-9.0,"v":1.14},{"c":"M","t":-8.5,"v":1.61},{"c":"M","t":-8.2,"v":1.61},{"c":"M","t":-7.9,"v":1.96},{"c":"M","t":-7.7,"v":1.86},{"c":"M","t":-7.3,"v":1.40},{"c":"M","t":-6.8,"v":1.09},{"c":"M","t":-6.5,"v":0.68},{"c":"M","t":-6.3,"v":0.89},
{"c":"M","t":-6.2,"v":0.58},{"c":"M","t":-5.8,"v":0.30},{"c":"M","t":-5.5,"v":0.50},{"c":"M","t":-5.2,"v":0.53},{"c":"M","t":-4.8,"v":0.84},{"c":"M","t":-4.7,"v":1.07},{"c":"M","t":-4.3,"v":1.37},{"c":"M","t":-4.0,"v":1.30},{"c":"M","t":-3.8,"v":1.37},{"c":"M","t":-3.6,"v":1.07},{"c":"M","t":-3.4,"v":1.27},{"c":"M","t":-3.2,"v":0.89},{"c":"M","t":-2.9,"v":0.68},{"c":"M","t":-2.7,"v":0.96},{"c":"M","t":-2.3,"v":0.86},{"c":"M","t":-2.1,"v":0.78},{"c":"M","t":-1.7,"v":0.94},{"c":"M","t":-1.3,"v":0.96},{"c":"M","t":-1.0,"v":0.99},{"c":"M","t":-0.8,"v":1.19},{"c":"M","t":-0.5,"v":0.78},{"c":"M","t":-0.2,"v":0.71},{"c":"M","t":0.2,"v":0.37},{"c":"M","t":0.5,"v":0.58},{"c":"M","t":0.9,"v":0.68},{"c":"M","t":1.2,"v":0.37},{"c":"M","t":1.5,"v":0.53},{"c":"M","t":1.8,"v":0.68},{"c":"M","t":2.1,"v":1.19},{"c":"M","t":2.3,"v":1.09},{"c":"M","t":2.6,"v":1.37},{"c":"M","t":2.8,"v":1.07},{"c":"M","t":3.0,"v":0.96},{"c":"M","t":3.3,"v":1.07},{"c":"M","t":3.7,"v":1.37},{"c":"M","t":4.2,"v":1.32},{"c":"M","t":4.6,"v":1.14},{"c":"M","t":4.8,"v":1.35},{"c":"M","t":5.3,"v":1.48},{"c":"M","t":5.6,"v":1.30},{"c":"M","t":6.0,"v":1.37},{"c":"M","t":6.3,"v":1.19},{"c":"M","t":6.7,"v":1.19},{"c":"M","t":7.0,"v":1.07},{"c":"M","t":7.3,"v":0.68},{"c":"M","t":7.7,"v":0.96},{"c":"M","t":8.0,"v":0.63},{"c":"M","t":8.3,"v":0.48},{"c":"M","t":8.7,"v":0.37},{"c":"M","t":9.0,"v":0.66},{"c":"M","t":9.3,"v":0.48},{"c":"M","t":9.7,"v":0.35},{"c":"M","t":10.0,"v":0.63},{"c":"M","t":10.3,"v":0.68},{"c":"M","t":10.6,"v":0.58},{"c":"M","t":10.8,"v":0.63},{"c":"M","t":11.2,"v":0.50},{"c":"M","t":11.7,"v":0.68},{"c":"M","t":12.0,"v":0.58},{"c":"M","t":12.3,"v":0.58},{"c":"M","t":12.7,"v":0.37},{"c":"M","t":13.0,"v":0.86},{"c":"M","t":13.2,"v":1.02},{"c":"M","t":13.6,"v":1.25},{"c":"M","t":13.8,"v":0.89},{"c":"M","t":14.2,"v":1.07},{"c":"M","t":14.6,"v":1.19},{"c":"M","t":14.8,"v":1.07},{"c":"M","t":15.2,"v":1.09},{"c":"M","t":15.5,"v":1.07},{"c":"M","t":15.7,"v":1.30},{"c":"M","t":16.0,"v":1.19},{"c":"M","t":16.3,"v":1.37},{"c":"M","t":16.7,"v":1.32},{"c":"M","t":17.1,"v":1.58},{"c":"M","t":17.5,"v":1.58},{"c":"M","t":18.0,"v":1.48},{"c":"M","t":18.3,"v":1.51},{"c":"M","t":18.7,"v":1.32},{"c":"M","t":19.2,"v":1.48},{"c":"M","t":19.5,"v":1.27},{"c":"M","t":20.0,"v":1.66},{"c":"M","t":20.3,"v":1.51},{"c":"M","t":20.6,"v":1.19},{"c":"M","t":20.9,"v":1.27},{"c":"M","t":21.2,"v":1.17},{"c":"M","t":21.7,"v":1.19},{"c":"M","t":22.1,"v":0.94},{"c":"M","t":22.3,"v":0.58},{"c":"M","t":22.7,"v":0.48},{"c":"M","t":23.0,"v":0.37},{"c":"M","t":23.3,"v":0.68},{"c":"M","t":23.7,"v":0.37},{"c":"M","t":24.0,"v":0.32},{"c":"M","t":24.3,"v":0.43},{"c":"M","t":24.7,"v":0.50},{"c":"M","t":25.2,"v":0.68},{"c":"M","t":25.7,"v":0.78},{"c":"M","t":26.0,"v":0.55},{"c":"M","t":26.3,"v":0.63},
{"c":"M","t":26.5,"v":0.68},{"c":"M","t":26.8,"v":0.40},{"c":"M","t":27.2,"v":0.66},{"c":"M","t":27.4,"v":0.45},{"c":"M","t":27.7,"v":0.68},{"c":"M","t":27.9,"v":0.89},{"c":"M","t":28.2,"v":0.96},{"c":"M","t":28.5,"v":1.07},{"c":"M","t":28.8,"v":1.27},{"c":"M","t":29.2,"v":0.96},{"c":"M","t":29.4,"v":1.17},{"c":"M","t":29.8,"v":1.09},{"c":"M","t":30.2,"v":0.96},{"c":"M","t":30.4,"v":1.30},{"c":"M","t":30.8,"v":1.43},{"c":"M","t":31.0,"v":1.55},{"c":"M","t":31.3,"v":1.55},{"c":"M","t":31.7,"v":1.76},{"c":"M","t":32.0,"v":1.86},{"c":"M","t":32.3,"v":1.58},{"c":"M","t":32.7,"v":1.63},{"c":"M","t":32.9,"v":1.76},{"c":"M","t":33.2,"v":1.68},{"c":"M","t":33.5,"v":1.27},{"c":"M","t":33.8,"v":1.48},{"c":"M","t":34.2,"v":1.30},{"c":"M","t":34.5,"v":1.58},{"c":"M","t":34.8,"v":1.25},{"c":"M","t":35.2,"v":1.35},{"c":"M","t":35.7,"v":1.09},{"c":"M","t":36.2,"v":0.94},{"c":"M","t":36.7,"v":0.68},{"c":"M","t":37.2,"v":0.78},{"c":"M","t":37.6,"v":0.37},{"c":"M","t":38.0,"v":0.68},{"c":"M","t":38.3,"v":0.66},{"c":"M","t":38.8,"v":0.50},{"c":"M","t":39.2,"v":0.58},{"c":"M","t":39.4,"v":0.78},{"c":"M","t":39.8,"v":0.43},{"c":"M","t":40.2,"v":0.40},{"c":"M","t":40.5,"v":0.68},{"c":"M","t":40.8,"v":0.76},{"c":"M","t":41.3,"v":0.58},{"c":"M","t":41.8,"v":0.84},{"c":"M","t":42.1,"v":0.91},{"c":"M","t":42.3,"v":0.68},{"c":"M","t":42.8,"v":0.99},{"c":"M","t":43.1,"v":1.22},{"c":"M","t":43.3,"v":0.99},{"c":"M","t":43.7,"v":1.32},{"c":"M","t":44.0,"v":1.50},{"c":"M","t":44.3,"v":1.19},{"c":"M","t":44.8,"v":1.55},{"c":"M","t":45.0,"v":1.40},{"c":"M","t":45.2,"v":1.78},{"c":"M","t":45.6,"v":1.32},{"c":"M","t":46.0,"v":1.78},{"c":"M","t":46.5,"v":1.71},{"c":"M","t":46.8,"v":1.58},{"c":"M","t":47.3,"v":1.58},{"c":"M","t":47.8,"v":1.40},{"c":"M","t":48.2,"v":1.53},{"c":"M","t":48.6,"v":1.14},{"c":"M","t":49.0,"v":1.27},{"c":"M","t":49.5,"v":0.99},{"c":"M","t":49.8,"v":1.17},{"c":"M","t":50.2,"v":1.07},{"c":"M","t":50.5,"v":1.27},{"c":"M","t":50.9,"v":1.27},{"c":"M","t":51.1,"v":0.99},{"c":"M","t":51.4,"v":0.66},{"c":"M","t":51.8,"v":0.55},{"c":"M","t":52.3,"v":0.96},{"c":"M","t":52.7,"v":0.48},{"c":"M","t":53.0,"v":0.68},{"c":"M","t":53.4,"v":0.66},{"c":"M","t":53.8,"v":0.53},{"c":"M","t":54.2,"v":0.43},{"c":"M","t":54.5,"v":0.78},{"c":"M","t":54.9,"v":0.45},{"c":"M","t":55.3,"v":0.78},{"c":"M","t":55.7,"v":0.58},{"c":"M","t":56.0,"v":0.99},{"c":"M","t":56.3,"v":0.89},{"c":"M","t":56.7,"v":1.09},{"c":"M","t":57.0,"v":1.17},{"c":"M","t":57.4,"v":0.89},{"c":"M","t":57.8,"v":1.27},{"c":"M","t":58.1,"v":1.58},{"c":"M","t":58.3,"v":1.30},{"c":"M","t":58.6,"v":1.55},{"c":"M","t":58.9,"v":1.40},{"c":"M","t":59.3,"v":1.55},{"c":"M","t":59.8,"v":1.48},{"c":"M","t":60.1,"v":1.40}
],
"cur":[{"n":"a","t":-22.6,"v":1.0},{"n":"b","t":-4.8,"v":-0.34}],
"rg":[{"n":"a","t":32.55,"v":4.451},{"n":"b","t":32.55,"v":4.154}],
"od":[{"s":"a","t":-21.6,"v":4.785},{"s":"b","t":-5.8,"v":4.785},{"s":"a","t":34.6,"v":4.451},{"s":"b","t":34.6,"v":4.154}],
"ts":[{"s":"T","t":0.05,"v":4.777},{"s":"T","t":17.45,"v":-5.485}],
"mkf":[{"s":"M","t":-41.05,"v":0.98}],
"mks":[{"s":"2","k":"2","t":-41.05,"v":-0.03},{"s":"3","k":"m3","t":-41.05,"v":-2.01},{"s":"4","k":"g4","t":-41.05,"v":-3.01}],
"ln":[{"k":"dr","t":-13.8,"t2":34.1,"v":5.138},{"k":"k","t":-42,"t2":-35.4,"v":5.015}],
"box":[
{"t":-39.9,"t2":15.4,"v":-4.462,"v2":-4.769},
{"t":-39.9,"t2":15.4,"v":-4.8,"v2":-5.108},
{"t":-39.9,"t2":15.4,"v":-5.138,"v2":-5.708},
{"t":16.5,"t2":31.2,"v":-5.077,"v2":-5.631},
{"t":32.2,"t2":42.7,"v":-5.077,"v2":-5.631},
{"t":43.7,"t2":60.1,"v":-5.077,"v2":-5.631},
{"t":29.9,"t2":59.7,"v":4.615,"v2":3.723},
{"t":49.0,"t2":60.1,"v":-5.985,"v2":-6.554},
{"t":-40.1,"t2":-28.8,"v":-5.754,"v2":-6.75},
{"t":-28.1,"t2":-16.9,"v":-5.754,"v2":-6.75},
{"t":-16.4,"t2":-5.2,"v":-5.754,"v2":-6.75},
{"t":7.3,"t2":18.5,"v":-5.754,"v2":-6.75}],
"sbox":[{"t":-38.6,"t2":-29.9,"v":-6.323,"v2":-6.569},{"t":-24.5,"t2":-20.6,"v":-6.323,"v2":-6.569},{"t":-9.9,"t2":-6.0,"v":-6.123,"v2":-6.446}],
"gbox":[{"t":-4.6,"t2":6.7,"v":-5.754,"v2":-6.75}],
"bdg":[
{"k":"1","t":-39.4,"t2":-36.9,"v":-4.523,"v2":-4.723},
{"k":"2","t":-25.5,"t2":-23.0,"v":-4.523,"v2":-4.723},
{"k":"m3","t":-11.6,"t2":-9.1,"v":-4.523,"v2":-4.723},
{"k":"g4","t":2.3,"t2":4.8,"v":-4.523,"v2":-4.723},
{"k":"dr","t":-39.4,"t2":-36.9,"v":-4.862,"v2":-5.062},
{"k":"dr","t":-39.4,"t2":-36.9,"v":-5.446,"v2":-5.646},
{"k":"m3","t":46.9,"t2":49.3,"v":-5.138,"v2":-5.323}],
"tc":[
{"s":"76.7mV","k":"dr","t":-23.15,"v":-5.562},
{"s":"76.7m","k":"dr","t":-14.9,"v":-5.562},
{"s":"76.7m","k":"dr","t":-6.7,"v":-5.562},
{"s":"76.7m","k":"dr","t":1.5,"v":-5.562},
{"s":"0.00","k":"dr","t":8.9,"v":-5.562},
{"s":"Min","k":"k","t":-7.5,"v":-5.3},
{"s":"Max","k":"k","t":0.7,"v":-5.3},
{"s":"10.0ns","k":"dr","t":-4.7,"v":-4.949},
{"s":"1","k":"k","t":-38.15,"v":-4.626},
{"s":"2","k":"k","t":-24.25,"v":-4.626},
{"s":"3","k":"k","t":-10.35,"v":-4.626},
{"s":"4","k":"k","t":3.55,"v":-4.626},
{"s":"M","k":"k","t":-38.15,"v":-4.962},
{"s":"M","k":"k","t":-38.15,"v":-5.546},
{"s":"3","k":"k","t":48.1,"v":-5.231}],
"tl":[
{"s":"500mV","k":"1","t":-35.1,"v":-4.626},
{"s":"500mV","k":"2","t":-21.2,"v":-4.626},
{"s":"5.00 V","k":"m3","t":-7.4,"v":-4.626},
{"s":"5.00 V","k":"g4","t":6.5,"v":-4.626},
{"s":"200mV","k":"dr","t":-35.1,"v":-4.949},
{"s":"→▼10.1000ns","k":"or","t":18.2,"v":-5.477}],
"trt":[
{"s":"−22.6ns","t":44.6,"v":4.451},{"s":"0.00 V","t":56.8,"v":4.451},
{"s":"−4.80ns","t":44.6,"v":4.154},{"s":"−268mV","t":57.7,"v":4.154},
{"s":"Δ17.8ns","t":44.6,"v":3.862},{"s":"Δ268mV","t":57.8,"v":3.862}],
"tn":[
{"s":"10.0ns","t":17.2,"v":-5.226},{"s":"5.00GS/s","t":32.7,"v":-5.226},{"s":"10M points","t":32.7,"v":-5.477},
{"s":"9 2月","t":50.6,"v":-6.128},{"s":"17:29:38","t":49.5,"v":-6.385}],
"tnr":[{"s":"1.50 V","t":59.3,"v":-5.226},{"s":"2016","t":59.7,"v":-6.128}],
"jp":[
{"s":"値","k":"k","t":-25.55,"v":-5.3},
{"s":"平均値","k":"k","t":-15.1,"v":-5.3},
{"s":"標準偏差","k":"k","t":10.35,"v":-5.3},
{"s":"実効値","k":"dr","t":-34.1,"v":-5.549},
{"s":"カーソル","k":"k","t":-34.3,"v":-5.862},
{"s":"波形","k":"k","t":-34.4,"v":-6.154},
{"s":"スクリーン","k":"k","t":-34.2,"v":-6.446},
{"s":"バー","k":"k","t":-22.6,"v":-5.862},
{"s":"水平","k":"k","t":-22.6,"v":-6.154},
{"s":"垂直","k":"k","t":-22.6,"v":-6.446},
{"s":"リンク","k":"k","t":-10.7,"v":-5.954},
{"s":"オン","k":"k","t":-13.7,"v":-6.292},
{"s":"オフ","k":"k","t":-8.0,"v":-6.292},
{"s":"カーソルを","k":"gy","t":1.1,"v":-5.862},
{"s":"画面上に","k":"gy","t":1.1,"v":-6.154},
{"s":"表示","k":"gy","t":1.1,"v":-6.446},
{"s":"単位","k":"k","t":12.9,"v":-6.169}],
"jph":[{"s":"停止","t":-37.1,"v":5.069}],
"hdr":[{"s":"Tek","t":-42.0,"v":5.015}]
},
"layer":[
{"mark":{"type":"rule","color":"#000000","strokeWidth":1,"strokeDash":[1,2]},
 "encoding":{"x":{"datum":10.1,"type":"quantitative","scale":{"domain":[-39.9,60.1],"nice":false,"zero":false},"axis":null}}},
{"mark":{"type":"rule","color":"#000000","strokeWidth":1,"strokeDash":[1,2]},
 "encoding":{"y":{"datum":0,"type":"quantitative","scale":{"domain":[-5,5],"nice":false,"zero":false},"axis":null}}},
{"data":{"name":"cur"},"mark":{"type":"rule","color":"#b00000","strokeWidth":1.5},
 "encoding":{"x":{"field":"t","type":"quantitative","scale":{"domain":[-39.9,60.1],"nice":false,"zero":false},"axis":null},
  "y":{"datum":5,"type":"quantitative","scale":{"domain":[-5,5],"nice":false,"zero":false},"axis":null},"y2":{"datum":-4.46}}},
{"data":{"name":"cur"},"mark":{"type":"rule","color":"#a80000","strokeWidth":1.3,"strokeDash":[8,4]},
 "encoding":{"y":{"field":"v","type":"quantitative","scale":{"domain":[-5,5],"nice":false,"zero":false},"axis":null}}},
{"data":{"name":"tr"},"mark":{"type":"line","strokeWidth":1.5},
 "encoding":{
  "x":{"field":"t","type":"quantitative","scale":{"domain":[-39.9,60.1],"nice":false,"zero":false},
   "axis":{"values":[-39.9,-29.9,-19.9,-9.9,0.1,10.1,20.1,30.1,40.1,50.1,60.1],"grid":true,"gridDash":[1,12],"gridColor":"#000000","gridOpacity":1,"gridWidth":1,"ticks":false,"labels":false,"domain":false,"title":null}},
  "y":{"field":"v","type":"quantitative","scale":{"domain":[-5,5],"nice":false,"zero":false},
   "axis":{"values":[-5,-4,-3,-2,-1,0,1,2,3,4,5],"grid":true,"gridDash":[1,19],"gridColor":"#000000","gridOpacity":1,"gridWidth":1,"ticks":false,"labels":false,"domain":false,"title":null}},
  "color":{"field":"c","type":"nominal","legend":null,"scale":{"domain":["1","2","3","4","M","m3","g4","dr","k","or","oa","w","gy"],"range":["#2222e6","#2ed8d8","#f23cf2","#33e033","#f51515","#a000a0","#009a00","#a00000","#000000","#ff9a00","#f0501e","#ffffff","#8c8c8c"]}}}},
{"data":{"name":"cur"},"mark":{"type":"point","filled":false,"color":"#a80000","size":196,"strokeWidth":1.3,"opacity":1},
 "encoding":{
  "x":{"field":"t","type":"quantitative","scale":{"domain":[-39.9,60.1],"nice":false,"zero":false},
   "axis":{"orient":"bottom","offset":-327,"values":[-39.9,-37.9,-35.9,-33.9,-31.9,-29.9,-27.9,-25.9,-23.9,-21.9,-19.9,-17.9,-15.9,-13.9,-11.9,-9.9,-7.9,-5.9,-3.9,-1.9,0.1,2.1,4.1,6.1,8.1,10.1,12.1,14.1,16.1,18.1,20.1,22.1,24.1,26.1,28.1,30.1,32.1,34.1,36.1,38.1,40.1,42.1,44.1,46.1,48.1,50.1,52.1,54.1,56.1,58.1,60.1],"ticks":true,"tickSize":5,"tickColor":"#000000","tickWidth":1,"labels":false,"domain":false,"grid":false,"title":null}},
  "y":{"field":"v","type":"quantitative","scale":{"domain":[-5,5],"nice":false,"zero":false},
   "axis":{"orient":"left","offset":-502,"values":[-5,-4.8,-4.6,-4.4,-4.2,-4,-3.8,-3.6,-3.4,-3.2,-3,-2.8,-2.6,-2.4,-2.2,-2,-1.8,-1.6,-1.4,-1.2,-1,-0.8,-0.6,-0.4,-0.2,0,0.2,0.4,0.6,0.8,1,1.2,1.4,1.6,1.8,2,2.2,2.4,2.6,2.8,3,3.2,3.4,3.6,3.8,4,4.2,4.4,4.6,4.8,5],"ticks":true,"tickSize":5,"tickColor":"#000000","tickWidth":1,"labels":false,"domain":false,"grid":false,"title":null}},
  "shape":{"field":"n","type":"nominal","legend":null,"scale":{"domain":["a","b"],"range":["square","circle"]}}}},
{"data":{"name":"ln"},"mark":{"type":"rule","strokeWidth":1.5},
 "encoding":{"x":{"field":"t","type":"quantitative","scale":{"domain":[-39.9,60.1],"nice":false,"zero":false},"axis":null},"x2":{"field":"t2"},
  "y":{"field":"v","type":"quantitative","scale":{"domain":[-5,5],"nice":false,"zero":false},"axis":null},
  "color":{"field":"k","type":"nominal","legend":null,"scale":{"domain":["1","2","3","4","M","m3","g4","dr","k","or","oa","w","gy"],"range":["#2222e6","#2ed8d8","#f23cf2","#33e033","#f51515","#a000a0","#009a00","#a00000","#000000","#ff9a00","#f0501e","#ffffff","#8c8c8c"]}}}},
{"data":{"name":"box"},"mark":{"type":"rect","fill":"#ffffff","stroke":"#000000","strokeWidth":1.2,"cornerRadius":6},
 "encoding":{"x":{"field":"t","type":"quantitative","scale":{"domain":[-39.9,60.1],"nice":false,"zero":false},"axis":null},"x2":{"field":"t2"},
  "y":{"field":"v","type":"quantitative","scale":{"domain":[-5,5],"nice":false,"zero":false},"axis":null},"y2":{"field":"v2"}}},
{"data":{"name":"gbox"},"mark":{"type":"rect","fill":"#ffffff","stroke":"#9a9a9a","strokeWidth":1.2,"cornerRadius":6},
 "encoding":{"x":{"field":"t","type":"quantitative","scale":{"domain":[-39.9,60.1],"nice":false,"zero":false},"axis":null},"x2":{"field":"t2"},
  "y":{"field":"v","type":"quantitative","scale":{"domain":[-5,5],"nice":false,"zero":false},"axis":null},"y2":{"field":"v2"}}},
{"data":{"name":"sbox"},"mark":{"type":"rect","fill":"#ffffff","stroke":"#000000","strokeWidth":1.2,"cornerRadius":4},
 "encoding":{"x":{"field":"t","type":"quantitative","scale":{"domain":[-39.9,60.1],"nice":false,"zero":false},"axis":null},"x2":{"field":"t2"},
  "y":{"field":"v","type":"quantitative","scale":{"domain":[-5,5],"nice":false,"zero":false},"axis":null},"y2":{"field":"v2"}}},
{"data":{"name":"bdg"},"mark":{"type":"rect","cornerRadius":7},
 "encoding":{
  "x":{"field":"t","type":"quantitative","scale":{"domain":[-39.9,60.1],"nice":false,"zero":false},
   "axis":{"orient":"bottom","offset":-3,"values":[-39.9,-37.9,-35.9,-33.9,-31.9,-29.9,-27.9,-25.9,-23.9,-21.9,-19.9,-17.9,-15.9,-13.9,-11.9,-9.9,-7.9,-5.9,-3.9,-1.9,0.1,2.1,4.1,6.1,8.1,10.1,12.1,14.1,16.1,18.1,20.1,22.1,24.1,26.1,28.1,30.1,32.1,34.1,36.1,38.1,40.1,42.1,44.1,46.1,48.1,50.1,52.1,54.1,56.1,58.1,60.1],"ticks":true,"tickSize":3,"tickColor":"#000000","tickWidth":1,"labels":false,"domain":false,"grid":false,"title":null}},
  "x2":{"field":"t2"},
  "y":{"field":"v","type":"quantitative","scale":{"domain":[-5,5],"nice":false,"zero":false},
   "axis":{"orient":"right","offset":-3,"values":[-5,-4.8,-4.6,-4.4,-4.2,-4,-3.8,-3.6,-3.4,-3.2,-3,-2.8,-2.6,-2.4,-2.2,-2,-1.8,-1.6,-1.4,-1.2,-1,-0.8,-0.6,-0.4,-0.2,0,0.2,0.4,0.6,0.8,1,1.2,1.4,1.6,1.8,2,2.2,2.4,2.6,2.8,3,3.2,3.4,3.6,3.8,4,4.2,4.4,4.6,4.8,5],"ticks":true,"tickSize":3,"tickColor":"#000000","tickWidth":1,"labels":false,"domain":false,"grid":false,"title":null}},
  "y2":{"field":"v2"},
  "color":{"field":"k","type":"nominal","legend":null,"scale":{"domain":["1","2","3","4","M","m3","g4","dr","k","or","oa","w","gy"],"range":["#2222e6","#2ed8d8","#f23cf2","#33e033","#f51515","#a000a0","#009a00","#a00000","#000000","#ff9a00","#f0501e","#ffffff","#8c8c8c"]}}}},
{"data":{"name":"mkf"},"mark":{"type":"point","shape":"M-1,-0.8L0.45,-0.8L1,0L0.45,0.8L-1,0.8Z","size":361,"filled":true,"color":"#a01010","opacity":1},
 "encoding":{"x":{"field":"t","type":"quantitative","scale":{"domain":[-39.9,60.1],"nice":false,"zero":false},"axis":null},
  "y":{"field":"v","type":"quantitative","scale":{"domain":[-5,5],"nice":false,"zero":false},"axis":null}}},
{"data":{"name":"mks"},"mark":{"type":"point","shape":"M-1,-0.8L0.45,-0.8L1,0L0.45,0.8L-1,0.8Z","size":361,"filled":false,"strokeWidth":1.5,"opacity":1},
 "encoding":{
  "x":{"field":"t","type":"quantitative","scale":{"domain":[-39.9,60.1],"nice":false,"zero":false},
   "axis":{"orient":"top","offset":-3,"values":[-39.9,-37.9,-35.9,-33.9,-31.9,-29.9,-27.9,-25.9,-23.9,-21.9,-19.9,-17.9,-15.9,-13.9,-11.9,-9.9,-7.9,-5.9,-3.9,-1.9,0.1,2.1,4.1,6.1,8.1,10.1,12.1,14.1,16.1,18.1,20.1,22.1,24.1,26.1,28.1,30.1,32.1,34.1,36.1,38.1,40.1,42.1,44.1,46.1,48.1,50.1,52.1,54.1,56.1,58.1,60.1],"ticks":true,"tickSize":3,"tickColor":"#000000","tickWidth":1,"labels":false,"domain":false,"grid":false,"title":null}},
  "y":{"field":"v","type":"quantitative","scale":{"domain":[-5,5],"nice":false,"zero":false},
   "axis":{"orient":"left","offset":-3,"values":[-5,-4.8,-4.6,-4.4,-4.2,-4,-3.8,-3.6,-3.4,-3.2,-3,-2.8,-2.6,-2.4,-2.2,-2,-1.8,-1.6,-1.4,-1.2,-1,-0.8,-0.6,-0.4,-0.2,0,0.2,0.4,0.6,0.8,1,1.2,1.4,1.6,1.8,2,2.2,2.4,2.6,2.8,3,3.2,3.4,3.6,3.8,4,4.2,4.4,4.6,4.8,5],"ticks":true,"tickSize":3,"tickColor":"#000000","tickWidth":1,"labels":false,"domain":false,"grid":false,"title":null}},
  "color":{"field":"k","type":"nominal","legend":null,"scale":{"domain":["1","2","3","4","M","m3","g4","dr","k","or","oa","w","gy"],"range":["#2222e6","#2ed8d8","#f23cf2","#33e033","#f51515","#a000a0","#009a00","#a00000","#000000","#ff9a00","#f0501e","#ffffff","#8c8c8c"]}}}},
{"data":{"name":"rg"},"mark":{"type":"point","filled":false,"color":"#a80000","size":196,"strokeWidth":1.2,"opacity":1},
 "encoding":{"x":{"field":"t","type":"quantitative","scale":{"domain":[-39.9,60.1],"nice":false,"zero":false},"axis":null},
  "y":{"field":"v","type":"quantitative","scale":{"domain":[-5,5],"nice":false,"zero":false},"axis":null},
  "shape":{"field":"n","type":"nominal","legend":null,"scale":{"domain":["a","b"],"range":["square","circle"]}}}},
{"data":{"name":"od"},"mark":{"type":"point","shape":"circle","filled":true,"color":"#f0501e","size":256,"opacity":1},
 "encoding":{"x":{"field":"t","type":"quantitative","scale":{"domain":[-39.9,60.1],"nice":false,"zero":false},"axis":null},
  "y":{"field":"v","type":"quantitative","scale":{"domain":[-5,5],"nice":false,"zero":false},"axis":null}}},
{"data":{"name":"od"},"mark":{"type":"text","color":"#ffffff","font":"DejaVu Sans","fontWeight":"bold","fontSize":13,"baseline":"middle","align":"center","dy":-1},
 "encoding":{"x":{"field":"t","type":"quantitative","scale":{"domain":[-39.9,60.1],"nice":false,"zero":false},"axis":null},
  "y":{"field":"v","type":"quantitative","scale":{"domain":[-5,5],"nice":false,"zero":false},"axis":null},"text":{"field":"s"}}},
{"data":{"name":"ts"},"mark":{"type":"point","shape":"M-0.85,-1L0.85,-1L0.85,0.55L0,1L-0.85,0.55Z","filled":true,"color":"#ff9a00","size":196,"opacity":1},
 "encoding":{"x":{"field":"t","type":"quantitative","scale":{"domain":[-39.9,60.1],"nice":false,"zero":false},"axis":null},
  "y":{"field":"v","type":"quantitative","scale":{"domain":[-5,5],"nice":false,"zero":false},"axis":null}}},
{"data":{"name":"ts"},"mark":{"type":"text","color":"#ffffff","font":"DejaVu Sans","fontWeight":"bold","fontSize":12,"baseline":"middle","align":"center","dy":-1},
 "encoding":{"x":{"field":"t","type":"quantitative","scale":{"domain":[-39.9,60.1],"nice":false,"zero":false},"axis":null},
  "y":{"field":"v","type":"quantitative","scale":{"domain":[-5,5],"nice":false,"zero":false},"axis":null},"text":{"field":"s"}}},
{"data":{"values":[{"t":10.15,"v":4.92}]},"mark":{"type":"point","shape":"triangle-down","filled":true,"color":"#ff9a00","size":90,"opacity":1},
 "encoding":{"x":{"field":"t","type":"quantitative","scale":{"domain":[-39.9,60.1],"nice":false,"zero":false},"axis":null},
  "y":{"field":"v","type":"quantitative","scale":{"domain":[-5,5],"nice":false,"zero":false},"axis":null}}},
{"data":{"values":[{"t":9.75,"t2":10.55,"v":5.2,"v2":5.03}]},"mark":{"type":"rect","fill":"#ff9a00","cornerRadius":1},
 "encoding":{"x":{"field":"t","type":"quantitative","scale":{"domain":[-39.9,60.1],"nice":false,"zero":false},"axis":null},"x2":{"field":"t2"},
  "y":{"field":"v","type":"quantitative","scale":{"domain":[-5,5],"nice":false,"zero":false},"axis":null},"y2":{"field":"v2"}}},
{"data":{"values":[{"t":59.5,"v":-1.7}]},"mark":{"type":"point","shape":"triangle-left","filled":true,"color":"#a000a0","size":90,"opacity":1},
 "encoding":{"x":{"field":"t","type":"quantitative","scale":{"domain":[-39.9,60.1],"nice":false,"zero":false},"axis":null},
  "y":{"field":"v","type":"quantitative","scale":{"domain":[-5,5],"nice":false,"zero":false},"axis":null}}},
{"data":{"values":[{"t":51.4,"v":-5.231}]},"mark":{"type":"point","shape":"M-1,-0.7L-0.2,-0.7L0.2,0.7L1,0.7","filled":false,"color":"#000000","strokeWidth":2,"size":144,"opacity":1},
 "encoding":{"x":{"field":"t","type":"quantitative","scale":{"domain":[-39.9,60.1],"nice":false,"zero":false},"axis":null},
  "y":{"field":"v","type":"quantitative","scale":{"domain":[-5,5],"nice":false,"zero":false},"axis":null}}},
{"data":{"name":"mkf"},"mark":{"type":"text","color":"#000000","font":"DejaVu Sans","fontWeight":"bold","fontSize":13,"baseline":"middle","align":"center","dx":-2},
 "encoding":{"x":{"field":"t","type":"quantitative","scale":{"domain":[-39.9,60.1],"nice":false,"zero":false},"axis":null},
  "y":{"field":"v","type":"quantitative","scale":{"domain":[-5,5],"nice":false,"zero":false},"axis":null},"text":{"field":"s"}}},
{"data":{"name":"mks"},"mark":{"type":"text","font":"DejaVu Sans","fontSize":16,"baseline":"middle","align":"center","dx":-2},
 "encoding":{"x":{"field":"t","type":"quantitative","scale":{"domain":[-39.9,60.1],"nice":false,"zero":false},"axis":null},
  "y":{"field":"v","type":"quantitative","scale":{"domain":[-5,5],"nice":false,"zero":false},"axis":null},"text":{"field":"s"},
  "color":{"field":"k","type":"nominal","legend":null,"scale":{"domain":["1","2","3","4","M","m3","g4","dr","k","or","oa","w","gy"],"range":["#2222e6","#2ed8d8","#f23cf2","#33e033","#f51515","#a000a0","#009a00","#a00000","#000000","#ff9a00","#f0501e","#ffffff","#8c8c8c"]}}}},
{"data":{"name":"tc"},"mark":{"type":"text","font":"DejaVu Sans","fontWeight":"bold","fontSize":14,"baseline":"middle","align":"center"},
 "encoding":{"x":{"field":"t","type":"quantitative","scale":{"domain":[-39.9,60.1],"nice":false,"zero":false},"axis":null},
  "y":{"field":"v","type":"quantitative","scale":{"domain":[-5,5],"nice":false,"zero":false},"axis":null},"text":{"field":"s"},
  "color":{"field":"k","type":"nominal","legend":null,"scale":{"domain":["1","2","3","4","M","m3","g4","dr","k","or","oa","w","gy"],"range":["#2222e6","#2ed8d8","#f23cf2","#33e033","#f51515","#a000a0","#009a00","#a00000","#000000","#ff9a00","#f0501e","#ffffff","#8c8c8c"]}}}},
{"data":{"name":"tl"},"mark":{"type":"text","font":"DejaVu Sans","fontWeight":"bold","fontSize":14,"baseline":"middle","align":"left"},
 "encoding":{"x":{"field":"t","type":"quantitative","scale":{"domain":[-39.9,60.1],"nice":false,"zero":false},"axis":null},
  "y":{"field":"v","type":"quantitative","scale":{"domain":[-5,5],"nice":false,"zero":false},"axis":null},"text":{"field":"s"},
  "color":{"field":"k","type":"nominal","legend":null,"scale":{"domain":["1","2","3","4","M","m3","g4","dr","k","or","oa","w","gy"],"range":["#2222e6","#2ed8d8","#f23cf2","#33e033","#f51515","#a000a0","#009a00","#a00000","#000000","#ff9a00","#f0501e","#ffffff","#8c8c8c"]}}}},
{"data":{"name":"trt"},"mark":{"type":"text","font":"DejaVu Sans","fontWeight":"bold","fontSize":14,"baseline":"middle","align":"right","color":"#a81010"},
 "encoding":{"x":{"field":"t","type":"quantitative","scale":{"domain":[-39.9,60.1],"nice":false,"zero":false},"axis":null},
  "y":{"field":"v","type":"quantitative","scale":{"domain":[-5,5],"nice":false,"zero":false},"axis":null},"text":{"field":"s"}}},
{"data":{"name":"tn"},"mark":{"type":"text","font":"DejaVu Sans, Noto Sans CJK JP","fontSize":15,"baseline":"middle","align":"left","color":"#000000"},
 "encoding":{"x":{"field":"t","type":"quantitative","scale":{"domain":[-39.9,60.1],"nice":false,"zero":false},"axis":null},
  "y":{"field":"v","type":"quantitative","scale":{"domain":[-5,5],"nice":false,"zero":false},"axis":null},"text":{"field":"s"}}},
{"data":{"name":"tnr"},"mark":{"type":"text","font":"DejaVu Sans","fontSize":15,"baseline":"middle","align":"right","color":"#000000"},
 "encoding":{"x":{"field":"t","type":"quantitative","scale":{"domain":[-39.9,60.1],"nice":false,"zero":false},"axis":null},
  "y":{"field":"v","type":"quantitative","scale":{"domain":[-5,5],"nice":false,"zero":false},"axis":null},"text":{"field":"s"}}},
{"data":{"name":"jp"},"mark":{"type":"text","font":"Noto Sans CJK JP","fontSize":15,"baseline":"middle","align":"center"},
 "encoding":{"x":{"field":"t","type":"quantitative","scale":{"domain":[-39.9,60.1],"nice":false,"zero":false},"axis":null},
  "y":{"field":"v","type":"quantitative","scale":{"domain":[-5,5],"nice":false,"zero":false},"axis":null},"text":{"field":"s"},
  "color":{"field":"k","type":"nominal","legend":null,"scale":{"domain":["1","2","3","4","M","m3","g4","dr","k","or","oa","w","gy"],"range":["#2222e6","#2ed8d8","#f23cf2","#33e033","#f51515","#a000a0","#009a00","#a00000","#000000","#ff9a00","#f0501e","#ffffff","#8c8c8c"]}}}},
{"data":{"name":"jph"},"mark":{"type":"text","font":"Noto Sans CJK JP","fontSize":14,"baseline":"middle","align":"center","color":"#000000"},
 "encoding":{"x":{"field":"t","type":"quantitative","scale":{"domain":[-39.9,60.1],"nice":false,"zero":false},"axis":null},
  "y":{"field":"v","type":"quantitative","scale":{"domain":[-5,5],"nice":false,"zero":false},"axis":null},"text":{"field":"s"}}},
{"data":{"name":"hdr"},"mark":{"type":"text","font":"Liberation Serif","fontWeight":"bold","fontSize":18,"baseline":"alphabetic","align":"left","color":"#000000"},
 "encoding":{"x":{"field":"t","type":"quantitative","scale":{"domain":[-39.9,60.1],"nice":false,"zero":false},"axis":null},
  "y":{"field":"v","type":"quantitative","scale":{"domain":[-5,5],"nice":false,"zero":false},"axis":null},"text":{"field":"s"}}}
],
"resolve":{"axis":{"x":"independent","y":"independent"}}
}
